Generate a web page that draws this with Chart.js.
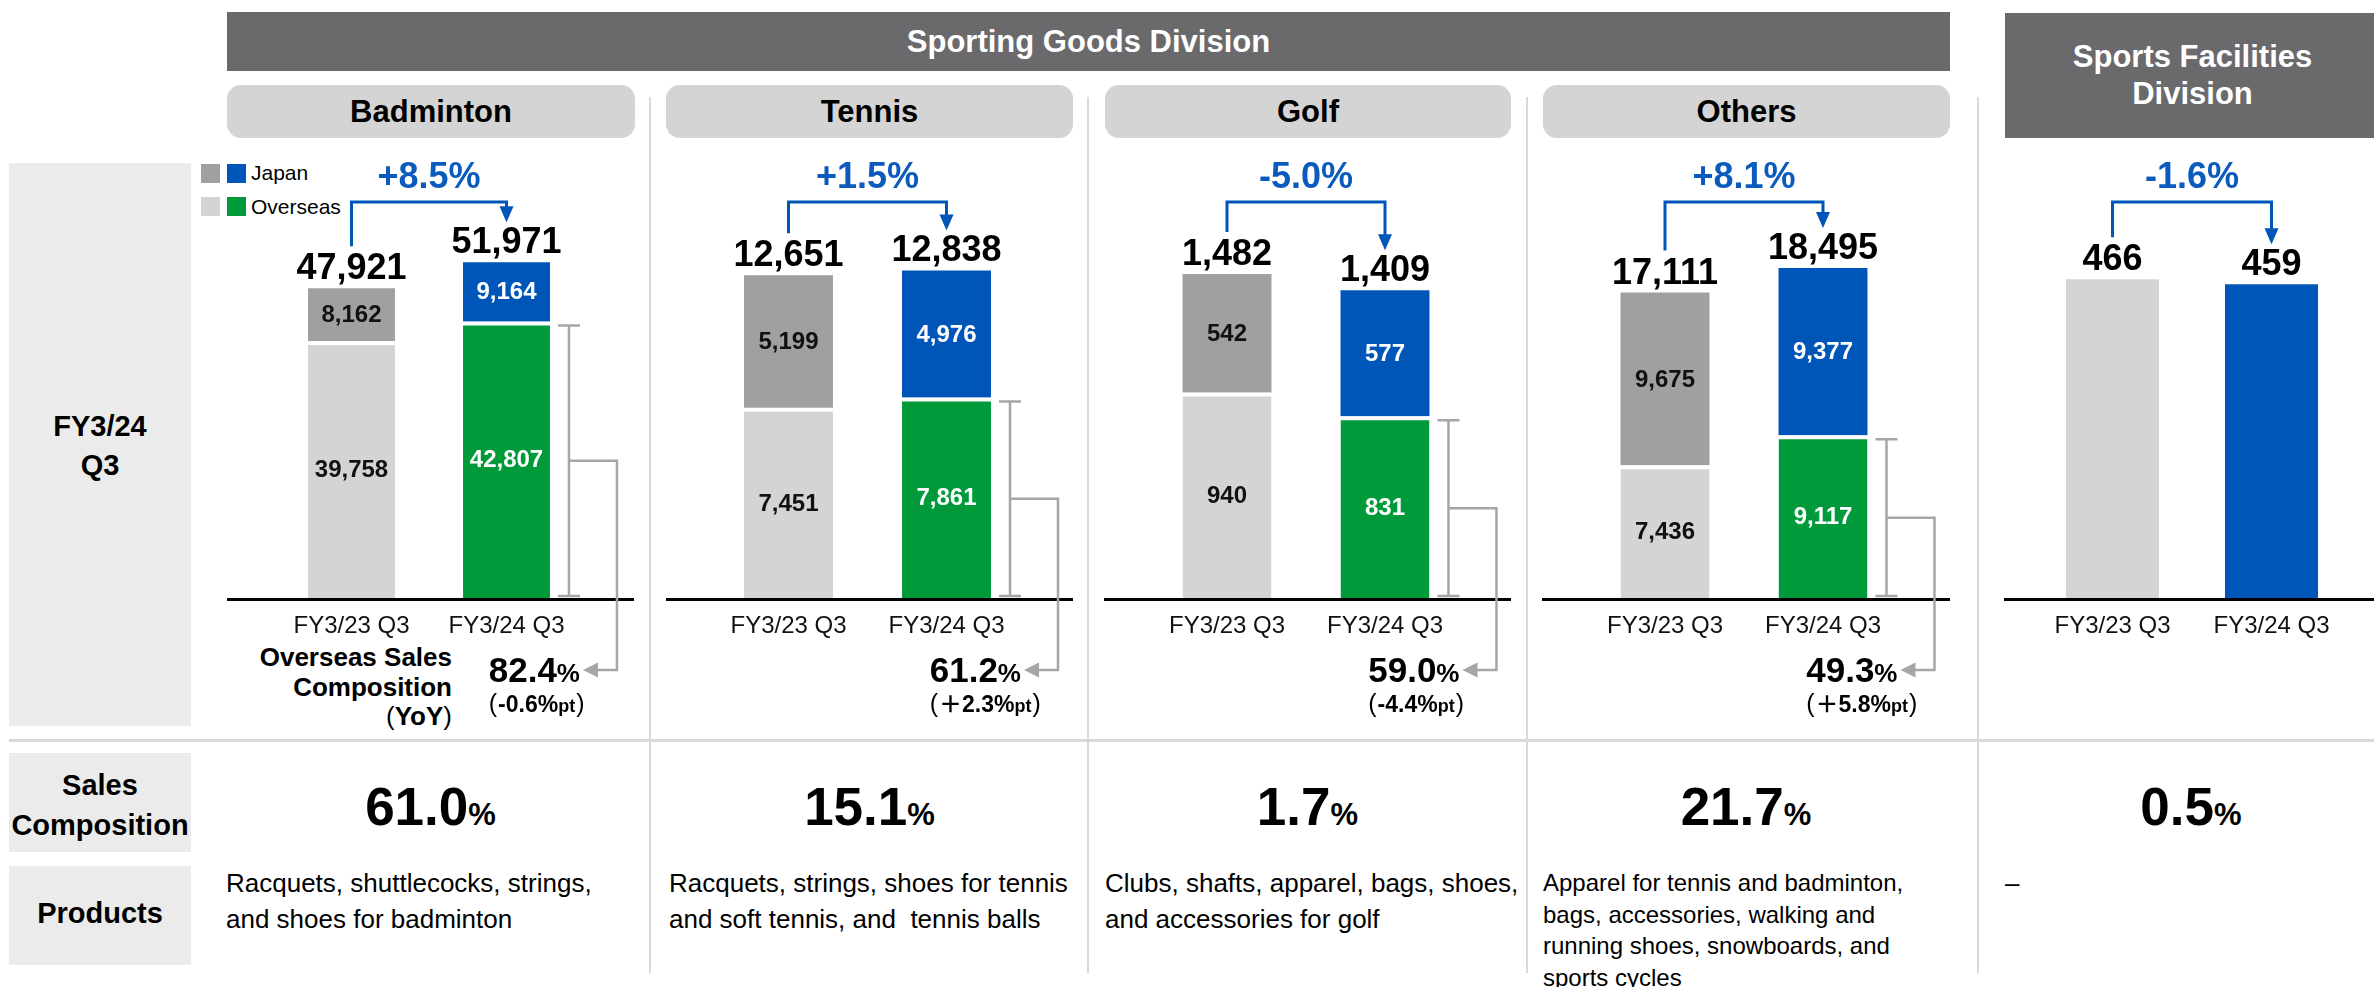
<!DOCTYPE html>
<html><head><meta charset="utf-8">
<script src="https://cdn.jsdelivr.net/npm/chart.js@4.4.1/dist/chart.umd.min.js"></script>
<style>
html,body{margin:0;padding:0;background:#fff;}
body{width:2374px;height:987px;position:relative;overflow:hidden;font-family:"Liberation Sans",Arial,"Noto Sans CJK JP",sans-serif;color:#000;}
.abs{position:absolute;}
.hdr{background:#6a6a6c;color:#fff;font-weight:bold;font-size:31px;text-align:center;}
.sub{background:#d4d4d4;border-radius:14px;font-weight:bold;font-size:31px;text-align:center;line-height:53px;height:53px;top:85px;}
.lbox{background:#ebebeb;left:9px;width:182px;}
.ltxt{font-weight:bold;font-size:29px;text-align:center;left:0;width:200px;white-space:nowrap;}
.vsep{width:2px;background:#d9d9d9;top:97px;height:876px;}
.sq{width:19px;height:19px;}
.comp{font-weight:bold;text-align:center;white-space:nowrap;width:400px;top:775px;line-height:64px;}
.prod{white-space:pre;}
canvas{position:absolute;}
</style></head><body>
<script>
// ===== DATA =====
const periods = ['FY3/23 Q3', 'FY3/24 Q3'];
const segmentNames = ['Badminton', 'Tennis', 'Golf', 'Others'];
const divisionNames = ['Sporting Goods Division', 'Sports Facilities Division'];
const japanBadminton = [8162, 9164];
const overseasBadminton = [39758, 42807];
const totalBadminton = [47921, 51971];
const japanTennis = [5199, 4976];
const overseasTennis = [7451, 7861];
const totalTennis = [12651, 12838];
const japanGolf = [542, 577];
const overseasGolf = [940, 831];
const totalGolf = [1482, 1409];
const japanOthers = [9675, 9377];
const overseasOthers = [7436, 9117];
const totalOthers = [17111, 18495];
const facilitiesSales = [466, 459];
const yoyGrowth = ['+8.5%', '+1.5%', '-5.0%', '+8.1%', '-1.6%'];
const overseasShare = ['82.4', '61.2', '59.0', '49.3'];
const overseasShareChange = ['-0.6', '＋2.3', '-4.4', '＋5.8'];
const salesComposition = ['61.0', '15.1', '1.7', '21.7', '0.5'];
const productLines = [
  ['Racquets, shuttlecocks, strings,', 'and shoes for badminton'],
  ['Racquets, strings, shoes for tennis', 'and soft tennis, and  tennis balls'],
  ['Clubs, shafts, apparel, bags, shoes,', 'and accessories for golf'],
  ['Apparel for tennis and badminton,', 'bags, accessories, walking and', 'running shoes, snowboards, and', 'sports cycles'],
  ['–']
];

// ===== STYLE / LAYOUT =====
const FONT = '"Liberation Sans", Arial, "Noto Sans CJK JP", sans-serif';
const BLUE = '#0055b8', GREEN = '#009a3b', DGRAY = '#a0a0a2', LGRAY = '#d4d4d4', BTXT = '#0a5bbd', BRK = '#a6a6a6';
const CANVAS_TOP = 140, CANVAS_H = 600;
const cols = [
  {left:227, width:407, padL:47, padR:50, ymax:61900, bp:0.561, center:430.5},
  {left:666, width:407, padL:43.5, padR:47.5, ymax:15675, bp:0.563, center:869.5},
  {left:1104, width:407, padL:44, padR:47, ymax:1830, bp:0.563, center:1307.5},
  {left:1542, width:408, padL:44, padR:48, ymax:22410, bp:0.563, center:1746},
  {left:2004, width:370, padL:29, padR:23, ymax:585, bp:0.585, center:2191}
];
const py = y => y - CANVAS_TOP;
const fmt = v => v.toLocaleString('en-US');

function el(cls, style, html) {
  const d = document.createElement('div');
  d.className = 'abs ' + cls;
  d.setAttribute('style', style);
  if (html !== undefined) d.innerHTML = html;
  document.body.appendChild(d);
  return d;
}

// static frame
el('hdr', 'left:227px;top:12px;width:1723px;height:59px;line-height:59px;', divisionNames[0]);
el('hdr', 'left:2005px;top:13px;width:369px;height:125px;line-height:37px;', '<div style="padding-top:25px;padding-left:6px">Sports Facilities<br>Division</div>');
const subLefts = [[227,408],[666,407],[1105,406],[1543,407]];
segmentNames.forEach((n,i)=> el('sub', `left:${subLefts[i][0]}px;width:${subLefts[i][1]}px;`, n));
[650, 1088, 1527, 1978].forEach(x => el('vsep', `left:${x-1}px;`));
el('', 'left:9px;top:739px;width:2365px;height:3px;background:#d9d9d9;');
el('lbox', 'top:163px;height:563px;');
el('lbox', 'top:753px;height:99px;');
el('lbox', 'top:866px;height:99px;');
el('ltxt', 'top:407px;line-height:39px;', 'FY3/24<br>Q3');
el('ltxt', 'top:765px;line-height:40px;', 'Sales<br>Composition');
el('ltxt', 'top:893px;line-height:40px;', 'Products');
// legend
el('sq', `left:201px;top:164px;background:${DGRAY};`);
el('sq', `left:227px;top:164px;background:${BLUE};`);
el('sq', `left:201px;top:197px;background:${LGRAY};`);
el('sq', `left:227px;top:197px;background:${GREEN};`);
el('', 'left:251px;top:161px;font-size:21px;line-height:24px;', 'Japan');
el('', 'left:251px;top:195px;font-size:21px;line-height:24px;', 'Overseas');
el('', 'left:132px;top:643px;width:320px;text-align:right;font-weight:bold;font-size:26px;line-height:29.5px;white-space:nowrap;', 'Overseas Sales<br>Composition<br><span style="font-weight:normal">(</span>YoY<span style="font-weight:normal">)</span>');
// sales composition
salesComposition.forEach((v,i)=> el('comp', `left:${cols[i].center-200}px;`, `<span style="font-size:53px">${v}</span><span style="font-size:31px">%</span>`));
// products
const prodLefts = [226, 669, 1105, 1543, 2005];
productLines.forEach((lines,i)=>{
  const small = lines.length > 2;
  el('prod', `left:${prodLefts[i]}px;top:${small?867:866}px;font-size:${small?24:26}px;line-height:${small?31.7:35.5}px;`, lines.join('\n'));
});

// ===== CHART PLUGIN =====
function drawRuns(ctx, runs, x, y, align) {
  let w = 0;
  runs.forEach(r => { ctx.font = r.f; r.w = ctx.measureText(r.t).width + (r.gap || 0); w += r.w; });
  let cx = align === 'right' ? x - w : x;
  ctx.textAlign = 'left'; ctx.textBaseline = 'alphabetic';
  runs.forEach(r => { ctx.font = r.f; ctx.fillText(r.t, cx, y); cx += r.w; });
  return x - (align === 'right' ? w : 0);
}

const annot = {
  id: 'annot',
  afterDatasetsDraw(chart, args, o) {
    const ctx = chart.ctx, area = chart.chartArea;
    ctx.save();
    ctx.strokeStyle = '#000'; ctx.lineWidth = 3;
    ctx.beginPath(); ctx.moveTo(0, area.bottom + 1.5); ctx.lineTo(chart.width, area.bottom + 1.5); ctx.stroke();
    const metas = chart.data.datasets.map((d, i) => chart.getDatasetMeta(i));
    ctx.textAlign = 'center'; ctx.textBaseline = 'middle';
    if (o.segmentLabels) {
      ctx.font = 'bold 24px ' + FONT;
      metas.forEach((m, di) => m.data.forEach((e, i) => {
        ctx.fillStyle = i === 0 ? '#111' : '#fff';
        ctx.fillText(fmt(chart.data.datasets[di].data[i]), e.x, (e.y + e.base) / 2 + 1);
      }));
    }
    const topMeta = metas[metas.length - 1];
    const tops = topMeta.data.map(e => e.y), xs = topMeta.data.map(e => e.x);
    ctx.font = 'bold 36px ' + FONT; ctx.fillStyle = '#000';
    o.totals.forEach((t, i) => ctx.fillText(fmt(t), xs[i], tops[i] - 19));
    // growth bracket
    const by = py(202), tip = tops[1] - 40;
    ctx.strokeStyle = BLUE; ctx.lineWidth = 3; ctx.lineJoin = 'miter';
    ctx.beginPath(); ctx.moveTo(xs[0], tops[0] - 42); ctx.lineTo(xs[0], by); ctx.lineTo(xs[1], by); ctx.lineTo(xs[1], tip - 12); ctx.stroke();
    ctx.fillStyle = BLUE; ctx.beginPath();
    ctx.moveTo(xs[1] - 7, tip - 16); ctx.lineTo(xs[1] + 7, tip - 16); ctx.lineTo(xs[1], tip); ctx.closePath(); ctx.fill();
    ctx.fillStyle = BTXT; ctx.font = 'bold 36px ' + FONT; ctx.textAlign = 'center'; ctx.textBaseline = 'middle';
    ctx.fillText(o.growth, (xs[0] + xs[1]) / 2, py(178));
    // overseas share bracket
    if (o.share) {
      const e = metas[0].data[1];
      const xr = e.x + e.width / 2, top = e.y + 4, bot = area.bottom - 2, mid = (top + bot) / 2;
      const vx = xr + 19, rx = xr + 67, ay = py(670), tx = xr + 33;
      ctx.strokeStyle = BRK; ctx.lineWidth = 2.5;
      ctx.beginPath();
      ctx.moveTo(vx, top); ctx.lineTo(vx, bot);
      ctx.moveTo(vx - 11, top); ctx.lineTo(vx + 11, top);
      ctx.moveTo(vx - 11, bot); ctx.lineTo(vx + 11, bot);
      ctx.moveTo(vx, mid); ctx.lineTo(rx, mid); ctx.lineTo(rx, ay); ctx.lineTo(tx + 12, ay);
      ctx.stroke();
      ctx.fillStyle = BRK; ctx.beginPath();
      ctx.moveTo(tx, ay); ctx.lineTo(tx + 15, ay - 7.5); ctx.lineTo(tx + 15, ay + 7.5); ctx.closePath(); ctx.fill();
      ctx.fillStyle = '#000';
      const lx = drawRuns(ctx, [{t:o.share, f:'bold 35px ' + FONT}, {t:'%', f:'bold 26px ' + FONT}], tx - 3, py(682), 'right');
      drawRuns(ctx, [{t:'(', f:'25px ' + FONT, gap:1}, {t:o.change + '%', f:'bold 23px ' + FONT}, {t:'pt', f:'bold 18px ' + FONT, gap:1}, {t:')', f:'25px ' + FONT}], lx, py(712), 'left');
    }
    ctx.restore();
  }
};

function makeChart(i, datasets, opts) {
  const c = cols[i];
  const cv = document.createElement('canvas');
  cv.width = c.width; cv.height = CANVAS_H;
  cv.style.left = c.left + 'px'; cv.style.top = CANVAS_TOP + 'px';
  cv.style.width = c.width + 'px'; cv.style.height = CANVAS_H + 'px';
  document.body.appendChild(cv);
  new Chart(cv, {
    type: 'bar',
    data: { labels: periods, datasets: datasets.map(d => Object.assign({barPercentage: c.bp, categoryPercentage: 1}, d)) },
    options: {
      responsive: false, animation: false, devicePixelRatio: 1,
      layout: { padding: { top: 58, left: c.padL, right: c.padR, bottom: 0 } },
      plugins: { legend: {display: false}, tooltip: {enabled: false}, annot: opts },
      scales: {
        x: { stacked: true, grid: {display: false, drawTicks: false}, border: {display: false},
             ticks: { color: '#111', font: {family: FONT, size: 24}, padding: 14, maxRotation: 0, autoSkip: false },
             afterFit: s => { s.height = CANVAS_H - 458; } },
        y: { stacked: true, display: false, min: 0, max: c.ymax }
      }
    },
    plugins: [annot]
  });
}

function stacked(overseas, japan) {
  return [
    { label: 'Overseas', data: overseas, backgroundColor: [LGRAY, GREEN], borderColor: '#fff', borderWidth: {top: 4, left: 0, right: 0, bottom: 0}, borderSkipped: false },
    { label: 'Japan', data: japan, backgroundColor: [DGRAY, BLUE] }
  ];
}
const segData = [
  [overseasBadminton, japanBadminton, totalBadminton],
  [overseasTennis, japanTennis, totalTennis],
  [overseasGolf, japanGolf, totalGolf],
  [overseasOthers, japanOthers, totalOthers]
];
segData.forEach((s, i) => makeChart(i, stacked(s[0], s[1]),
  { segmentLabels: true, totals: s[2], growth: yoyGrowth[i], share: overseasShare[i], change: overseasShareChange[i] }));
makeChart(4, [{ label: 'Sales', data: facilitiesSales, backgroundColor: [LGRAY, BLUE] }],
  { segmentLabels: false, totals: facilitiesSales, growth: yoyGrowth[4] });
</script>
</body></html>
